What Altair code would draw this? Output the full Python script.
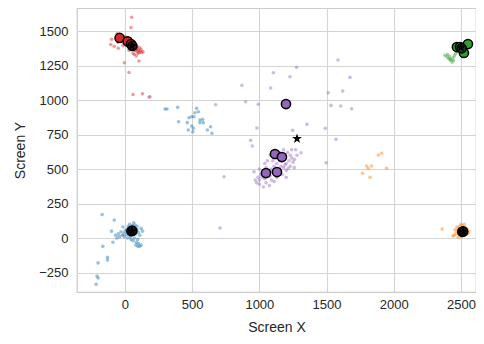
import altair as alt
import pandas as pd

# ---- small gaze samples per cluster ----
red_x = [-60, -50, -45, -40, -30, -25, -20, -10, 0, 5, 10, 15, 20, 25, 30, 35, 40, 45, 50, 55, 60, 65, 70, 75, 80, 85,
         90, 95, 100, 105, 110, 115, 120, -15, -55, -80, 30, 60, 70, 85, 100, 125, -35, 0, 40, 65, 90,
         50, 45, -5, 30, 60, 130, 180, -50, -100, -106, 104, 134]
red_y = [1480, 1470, 1460, 1475, 1465, 1450, 1440, 1455, 1440, 1430, 1420, 1440, 1410, 1430, 1400, 1415, 1395, 1420,
         1380, 1400, 1370, 1390, 1375, 1360, 1385, 1365, 1350, 1372, 1360, 1345, 1380, 1355, 1365, 1395, 1420, 1390,
         1360, 1340, 1330, 1320, 1340, 1345, 1430, 1460, 1440, 1410, 1390,
         1600, 1525, 1270, 1200, 1040, 1045, 1022, 1375, 1440, 1403, 1283, 1350]

blue_x = [50, 40, 60, 30, 70, 20, 80, 10, 55, 35, 75, 0, -10, -20, -40, -60, -70, -50, -30, 90, 100, 110, 95, 85, 100,
          120, 110, 60, 70, 40, 20, 45, 65, 25, -15, 90, 120, 130, -5, 15, 80, 95,
          -170, -80, -165, -130, -130, -200, -208, -200, -215, -100, -90,
          298, 313, 392, 533, 546, 521, 496, 513, 476, 558, 578, 583, 558, 464, 399, 496, 509, 471, 613, 637, 647, 504]
blue_y = [50, 60, 45, 70, 70, 40, 30, 60, 90, 100, 95, 50, 30, 20, 10, 0, 20, 30, 45, 60, 40, 20, -10, -30, -40,
          -50, -60, -20, 0, 10, 0, -10, 110, 85, 80, 85, 70, 50, 10, 25, -50, -60,
          170, 130, -60, -140, -160, -180, -275, -290, -335, 50, -30,
          935, 935, 947, 940, 915, 908, 879, 879, 872, 855, 860, 836, 836, 836, 843, 812, 795, 783, 783, 807, 759, 770]

orange_x = [2515, 2500, 2480, 2470, 2460, 2450, 2490, 2510, 2530, 2540, 2550, 2530, 2505, 2485, 2470, 2455, 2520,
            2495, 2545, 2440, 2525, 2500, 2480, 2560, 2360,
            1885, 1910, 1798, 1835, 1947, 1768, 1823, 1811]
orange_y = [45, 60, 70, 50, 30, 20, 85, 90, 75, 50, 30, 20, 10, 25, 80, 60, 65, 40, 65, 15, 100, 100, 5, 45, 65,
            601, 614, 522, 522, 505, 469, 440, 505]

green_x = [2380, 2395, 2410, 2420, 2433, 2440, 2450, 2460, 2470, 2400, 2415, 2425, 2445, 2490, 2510, 2530, 2480,
           2500, 2540, 2520]
green_y = [1325, 1312, 1300, 1290, 1275, 1304, 1320, 1335, 1350, 1330, 1315, 1295, 1285, 1370, 1390, 1400, 1360,
           1400, 1380, 1360]

purple_x = [1000, 1020, 1040, 1060, 1080, 1100, 1120, 1140, 1160, 1180, 1200, 1220, 1240, 1250, 1230, 1210, 1190,
            1170, 1150, 1130, 1110, 1090, 1070, 1050, 1030, 1010, 990, 970, 980, 1000, 1050, 1090, 1130, 1170, 1200,
            1230, 1260, 1280, 1270, 1060, 1080, 1100, 1120, 1150, 1180, 1040, 1000, 960, 1200, 1150, 1110, 1075,
            1030, 1190, 1215, 1240, 1260, 1160, 1125, 1045,
            1277, 1104, 1228, 1674, 870, 1084, 1620, 1513, 675, 898, 992, 1533, 1605, 1687, 1354, 1248, 1490, 982,
            1585, 935, 947, 1570, 1496, 737, 1310, 707, 186]
purple_y = [420, 440, 430, 460, 450, 480, 470, 500, 520, 510, 540, 560, 580, 550, 600, 620, 600, 580, 560, 540, 520,
            500, 490, 510, 480, 460, 440, 420, 400, 390, 400, 420, 440, 460, 490, 520, 570, 600, 640, 560, 600, 560,
            600, 620, 640, 540, 500, 480, 440, 470, 410, 380, 370, 530, 505, 640, 510, 600, 580, 455,
            1237, 1198, 1169, 1164, 1106, 1087, 1065, 1053, 966, 988, 969, 961, 957, 937, 824, 780, 795, 797,
            1290, 708, 667, 715, 546, 444, 618, 72, 1024]

# ---- fixation markers ----
fix_fill = ["#d62728", "#d62728", "#d62728", "#3a1a1a",
            "#101820", "#101820",
            "#201408", "#201408",
            "#2ca02c", "#2ca02c", "#2ca02c", "#2ca02c", "#1a3a1a",
            "#9467bd", "#9467bd", "#9467bd", "#9467bd", "#9467bd"]
fix_x = [-40, 20, 45, 55, 48, 55, 2510, 2517, 2470, 2493, 2552, 2522, 2505,
         1116, 1168, 1049, 1131, 1198]
fix_y = [1450, 1425, 1405, 1392, 50, 53, 45, 48, 1384, 1384, 1406, 1341, 1375,
         609, 587, 471, 478, 971]

# ---- centroid stars ----
star_x = [52, 52, 2515, 2500, 1280]
star_y = [1392, 50, 45, 1382, 720]

clusters = ["blue", "orange", "green", "red", "purple"]
colors = ["#1f77b4", "#ff7f0e", "#2ca02c", "#d62728", "#9467bd"]

STAR = ("M0,-1L0.2245,-0.309L0.9511,-0.309L0.3633,0.118L0.5878,0.809L0,0.382"
        "L-0.5878,0.809L-0.3633,0.118L-0.9511,-0.309L-0.2245,-0.309Z")

rows = []
for name, xs_, ys_ in [("red", red_x, red_y), ("blue", blue_x, blue_y), ("orange", orange_x, orange_y),
                       ("green", green_x, green_y), ("purple", purple_x, purple_y)]:
    for a, b in zip(xs_, ys_):
        rows.append({"x": a, "y": b, "kind": "sample", "c": colors[clusters.index(name)]})
for a, b, f in zip(fix_x, fix_y, fix_fill):
    rows.append({"x": a, "y": b, "kind": "fix", "c": f})
for a, b in zip(star_x, star_y):
    rows.append({"x": a, "y": b, "kind": "star", "c": "#000000"})
df = pd.DataFrame(rows)

base = alt.Chart(df).encode(
    x=alt.X("x:Q", scale=alt.Scale(domain=[-357, 2612], nice=False, zero=False),
            axis=alt.Axis(values=[0, 500, 1000, 1500, 2000, 2500], format="d", title="Screen X",
                          labelPadding=6, titlePadding=9)),
    y=alt.Y("y:Q", scale=alt.Scale(domain=[-391, 1667], nice=False, zero=False),
            axis=alt.Axis(values=[-250, 0, 250, 500, 750, 1000, 1250, 1500], format="d", title="Screen Y",
                          labelPadding=9, titlePadding=11)),
)

small = base.transform_filter(alt.datum.kind == "sample").mark_circle(size=13, opacity=0.45).encode(
    color=alt.Color("c:N", scale=None, legend=None))
big = base.transform_filter(alt.datum.kind == "fix").mark_circle(
    size=85, opacity=1, stroke="black", strokeWidth=1.5).encode(
    fill=alt.Fill("c:N", scale=None, legend=None))
st = base.transform_filter(alt.datum.kind == "star").mark_point(
    shape=STAR, size=110, filled=True, color="black", opacity=1)

chart = alt.layer(small, big, st).properties(
    width=399, height=284,
    autosize=alt.AutoSizeParams(type="none"),
    padding={"left": 69, "top": 0, "right": 0, "bottom": 43},
    background="white",
).configure_view(
    stroke="#cccccc", strokeWidth=1.25
).configure_axis(
    grid=True, domain=False, ticks=False,
    gridColor="#d4d4d4", gridWidth=1.1,
    labelFont="Liberation Sans", titleFont="Liberation Sans",
    labelFontSize=13, titleFontSize=14, labelColor="#262626", titleColor="#262626",
    titleFontWeight="normal",
)

chart.save("out.html", embed_options={"renderer": "svg", "actions": False})
